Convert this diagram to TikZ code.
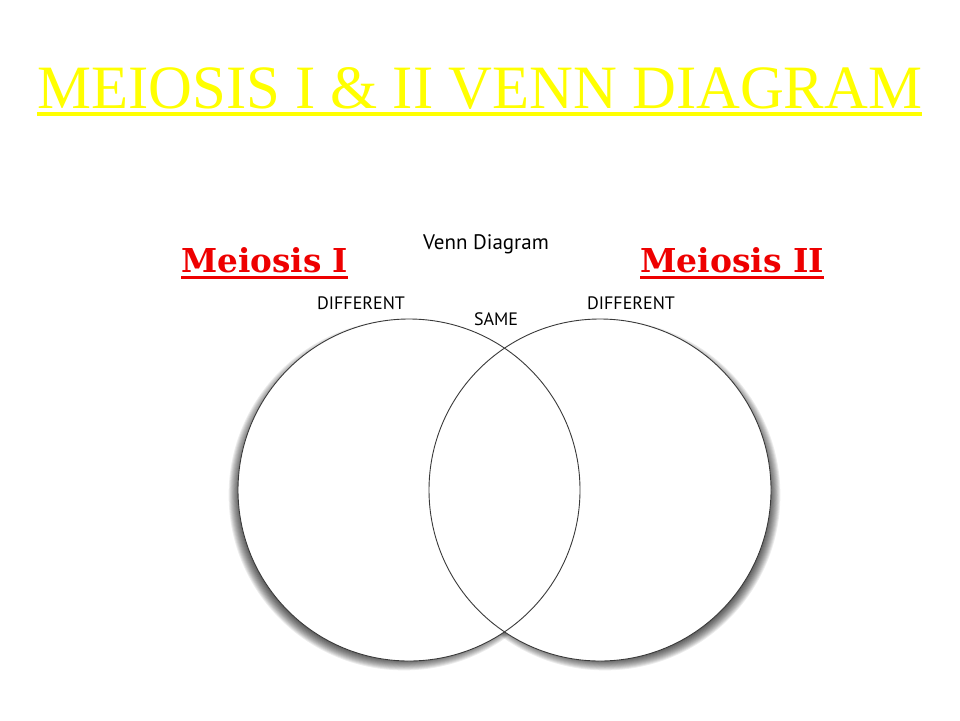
\documentclass[tikz,border=0pt]{standalone}
\usepackage{fontspec}
\setmainfont{Liberation Serif}
\newfontfamily\labfont{PT Sans}
\newfontfamily\heavyfont{DejaVu Serif}
\usetikzlibrary{calc}
\definecolor{ttlyellow}{HTML}{FFFF00}
\definecolor{redlab}{HTML}{EE0000}
\definecolor{ringline}{HTML}{3A3A3A}
\tikzset{
  titletext/.style={anchor=base west, inner sep=0pt, text=ttlyellow},
  meiolabel/.style={anchor=base west, inner sep=0pt, text=redlab},
  smalllabel/.style={anchor=base, inner sep=0pt, text=black, font=\labfont\fontsize{18}{18}\selectfont},
  ring/.style={draw=ringline, line width=0.9pt},
  shadowlayer/.style={fill=black, opacity=0.075}
}
\begin{document}
\begin{tikzpicture}[x=1pt,y=-1pt]
\useasboundingbox (0,0) rectangle (960,720);
\fill[white] (0,0) rectangle (960,720);

% title
\node[titletext] (title) at (37,108)
  {\resizebox{885pt}{41pt}{\fontsize{40}{40}\selectfont MEIOSIS I \& II VENN DIAGRAM}};
\draw[ttlyellow, line width=4.5pt] ([yshift=-6pt]title.base west) -- ([yshift=-6pt]title.base east);

% shadows
\foreach \i in {0,...,13} {
  \fill[shadowlayer] (404,495) circle ({(163+\i*0.95)*1pt});
  \fill[shadowlayer] (605,495) circle ({(163+\i*0.95)*1pt});
}

% circles
\node[circle, fill=white, minimum size=342pt, inner sep=0pt] (L) at (409,490) {};
\node[circle, fill=white, minimum size=342pt, inner sep=0pt] (R) at (600,490) {};
\draw[ring] (L.center) circle (171pt);
\draw[ring] (R.center) circle (171pt);

% labels
\node[anchor=base, inner sep=0pt, text=black, font=\labfont\fontsize{21}{21}\selectfont] (vd) at (486,249) {Venn Diagram};
\node[smalllabel] (d1) at (361,309) {DIFFERENT};
\node[smalllabel] (d2) at (631,309) {DIFFERENT};
\node[smalllabel] (same) at (496,325) {SAME};

\node[meiolabel] (m1) at (181,272) {\resizebox{167pt}{25pt}{\heavyfont\bfseries Meiosis I}};
\draw[redlab, line width=3pt] ([yshift=-5pt]m1.base west) -- ([yshift=-5pt]m1.base east);
\node[meiolabel] (m2) at (640,272) {\resizebox{184pt}{25pt}{\heavyfont\bfseries Meiosis II}};
\draw[redlab, line width=3pt] ([yshift=-5pt]m2.base west) -- ([yshift=-5pt]m2.base east);
\end{tikzpicture}
\end{document}
